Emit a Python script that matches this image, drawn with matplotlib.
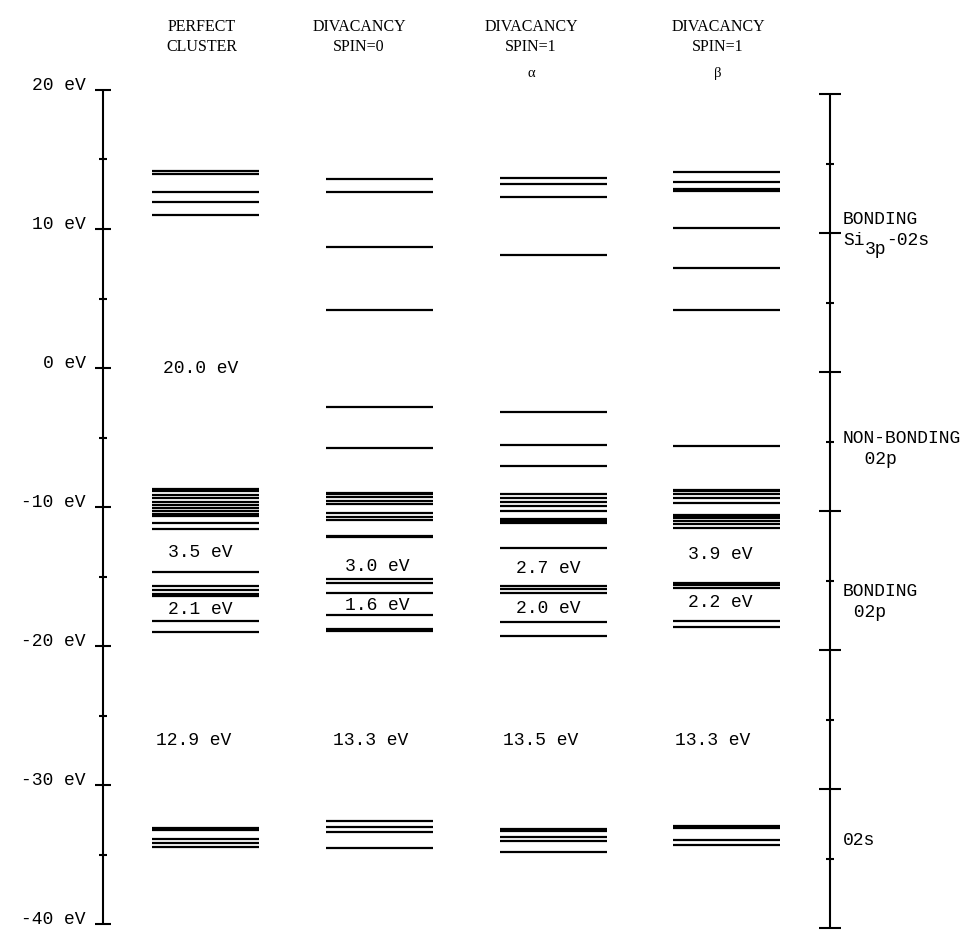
import matplotlib
matplotlib.use("Agg")
import matplotlib.pyplot as plt

# ---------------- data (energies in eV) ----------------
headers = ["PERFECT\nCLUSTER", "DIVACANCY\nSPIN=0", "DIVACANCY\nSPIN=1\n\u03b1", "DIVACANCY\nSPIN=1\n\u03b2"]

perfect_levels = [14.19, 13.94, 12.68, 11.94, 11.03,
                  -8.74, -8.84, -9.14, -9.37, -9.62, -9.86, -10.09, -10.29, -10.52, -10.62,
                  -11.17, -11.60,
                  -14.65, -15.66, -15.97, -16.26, -16.38, -18.20, -18.97,
                  -33.10, -33.22, -33.85, -34.16, -34.45]
spin0_levels = [13.57, 12.68, 8.73, 4.17, -2.78, -5.78,
                -9.00, -9.10, -9.30, -9.54, -9.78, -10.41, -10.70, -10.94, -12.08, -12.18,
                -15.20, -15.49, -16.21, -17.77, -18.80, -18.90,
                -32.60, -33.00, -33.40, -34.56]
alpha_levels = [13.64, 13.24, 12.33, 8.13, -3.14, -5.54, -7.05,
                -9.09, -9.38, -9.62, -9.93, -10.27, -10.85, -10.95, -11.05, -11.18,
                -12.97, -15.68, -15.87, -16.21, -18.25, -19.28,
                -33.17, -33.29, -33.74, -34.00, -34.80]
beta_levels = [14.12, 13.36, 12.76, 12.86, 10.05, 7.17, 4.17, -5.61,
               -8.78, -8.88, -9.06, -9.38, -9.69, -10.58, -10.70, -10.82, -10.98, -11.22, -11.53,
               -15.50, -15.60, -15.85, -18.18, -18.65,
               -32.94, -33.06, -33.95, -34.30]
columns = [perfect_levels, spin0_levels, alpha_levels, beta_levels]

gap_labels = [["20.0 eV", "3.5 eV", "2.1 eV", "12.9 eV"],
              ["3.0 eV", "1.6 eV", "13.3 eV"],
              ["2.7 eV", "2.0 eV", "13.5 eV"],
              ["3.9 eV", "2.2 eV", "13.3 eV"]]
gap_label_energy = [[0.0, -13.3, -17.4, -26.8],
                    [-14.3, -17.1, -26.8],
                    [-14.4, -17.3, -26.8],
                    [-13.4, -16.9, -26.8]]

axis_major = [20, 10, 0, -10, -20, -30, -40]
axis_minor = [15, 5, -5, -15, -25, -35]
axis_labels = ["20 eV", "10 eV", "0 eV", "-10 eV", "-20 eV", "-30 eV", "-40 eV"]

region_labels = [("BONDING", 10.7), ("NON-BONDING", -5.1), ("  02p", -6.6),
                 ("BONDING", -16.1), (" 02p", -17.6), ("02s", -34.0)]

# ---------------- layout ----------------
W, H = 978, 930
PXC = 173.8          # pixels per column step
X_ORIG = 205.5       # pixel x of first column centre
PXE = 13.9           # pixels per eV
Y0 = 368.0           # pixel y of 0 eV


def xd(px):
    return (px - X_ORIG) / PXC


fig = plt.figure(figsize=(W / 100, H / 100), dpi=100)
ax = fig.add_axes([0, 0, 1, 1])
ax.set_xlim(xd(0), xd(W))
ax.set_ylim(-(H - Y0) / PXE, Y0 / PXE)
ax.axis("off")

mono = "Liberation Mono"
serif = "Liberation Serif"

# levels
hw = 53.5 / PXC
for i, lv in enumerate(columns):
    ax.hlines(lv, i - hw, i + hw, colors="black", lw=1.6)

# gap labels
label_dx = [-0.03, -0.01, -0.03, -0.04]
for i, (labs, es) in enumerate(zip(gap_labels, gap_label_energy)):
    for lab, e in zip(labs, es):
        ax.text(i + label_dx[i] - (0.04 if lab[0] == "1" and len(lab) > 6 else 0), e, lab,
                ha="center", va="center", fontsize=13, family=mono)

# headers
header_x = [202, 359, 531, 718]
header_y = [27, 27, 27, 27]
for hx, hy, txt in zip(header_x, header_y, headers):
    lines = txt.split("\n")
    for k, line in enumerate(lines):
        ax.text(xd(hx), (Y0 - (hy + 20 * k + (6 if k == 2 else 0))) / PXE, line,
                ha="center", va="center", fontsize=11.5 if k < 2 else 10.5, family=serif)

# left axis
lx = xd(103)
ax.vlines(lx, axis_major[-1], axis_major[0], colors="black", lw=1.5)
ax.hlines(axis_major, lx - 8 / PXC, lx + 8 / PXC, colors="black", lw=1.5)
ax.hlines(axis_minor, lx - 3.5 / PXC, lx + 3.5 / PXC, colors="black", lw=1.5)
for e, lab in zip(axis_major, axis_labels):
    ax.text(xd(86), e + 0.3, lab, ha="right", va="center", fontsize=13, family=mono)

# right axis (slightly lower than left one)
rx = xd(830)
shift = -0.3
r_major = [e + shift for e in axis_major]
r_minor = [e + shift for e in axis_minor]
ax.vlines(rx, r_major[-1], r_major[0], colors="black", lw=1.5)
ax.hlines(r_major, rx - 11 / PXC, rx + 11 / PXC, colors="black", lw=1.5)
ax.hlines(r_minor, rx - 4.5 / PXC, rx + 4.5 / PXC, colors="black", lw=1.5)

tx = xd(843)
for lab, e in region_labels:
    ax.text(tx, e, lab, ha="left", va="center", fontsize=13, family=mono)
# Si_3p - 02s
e_si = 9.2
ax.text(tx, e_si, "Si", ha="left", va="center", fontsize=13, family=mono)
ax.annotate("3p", xy=(tx, e_si), xytext=(15.6, -7), textcoords="offset points",
            ha="left", va="center", fontsize=13, family=mono)
ax.annotate("-02s", xy=(tx, e_si), xytext=(31.2, 0), textcoords="offset points",
            ha="left", va="center", fontsize=13, family=mono)

fig.savefig("out.png", dpi=100, facecolor="white")
